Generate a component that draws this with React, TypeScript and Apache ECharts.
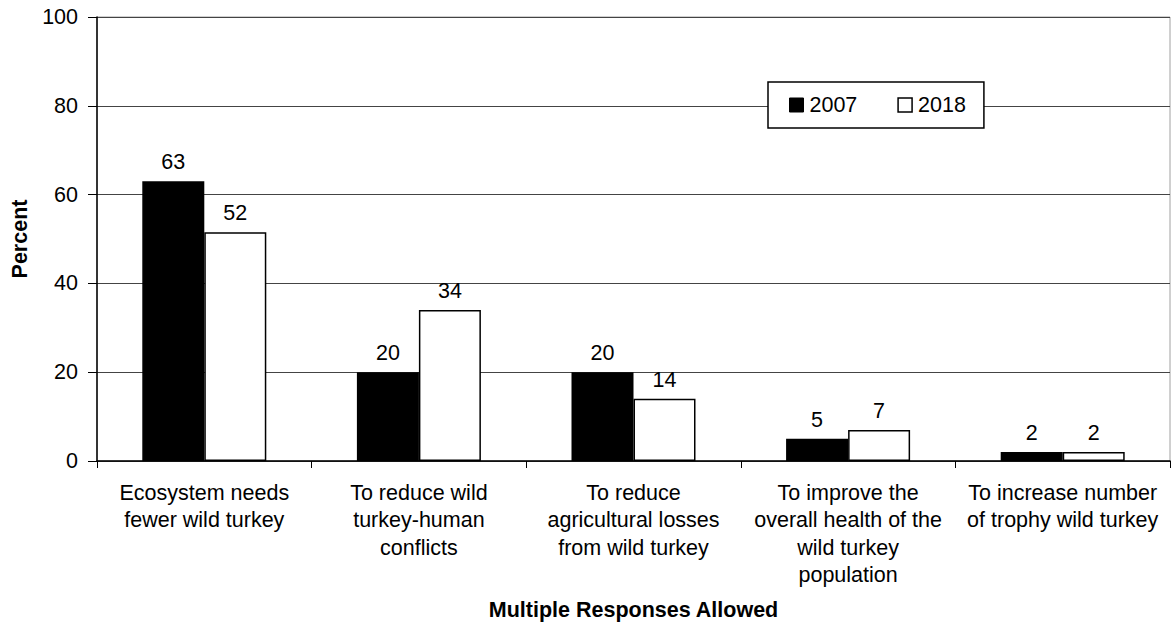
import React, { useEffect, useRef } from "react";
import * as echarts from "echarts";

const categories = [
  "Ecosystem needs\nfewer wild turkey",
  "To reduce wild\nturkey-human\nconflicts",
  "To reduce\nagricultural losses\nfrom wild turkey",
  "To improve the\noverall health of the\nwild turkey\npopulation",
  "To increase number\nof trophy wild turkey",
];
const values2007 = [63, 20, 20, 5, 2];
const values2018 = [51.5, 34, 14, 7, 2];
const seriesNames = ["2007", "2018"];
const yTicks = { min: 0, max: 100, interval: 20 };
const xTitle = "Multiple Responses Allowed";
const yTitle = "Percent";

const FONT = "'Liberation Sans', Arial, Helvetica, sans-serif";
const FS = 21.5;

export default function App() {
  const ref = useRef<HTMLDivElement>(null);
  useEffect(() => {
    if (!ref.current) return;
    const chart = echarts.init(ref.current, null, { renderer: "svg" });
    const labelCfg = {
      show: true,
      position: "top",
      distance: 8,
      color: "#000",
      fontFamily: FONT,
      fontSize: FS,
      formatter: (p: any) => String(Math.round(p.value)),
    };
    chart.setOption({
      animation: false,
      backgroundColor: "#fff",
      textStyle: { fontFamily: FONT, color: "#000" },
      grid: {
        left: 97,
        right: 1,
        top: 17,
        bottom: 163,
        show: true,
        borderColor: "#a0a0a0",
        borderWidth: 1,
        backgroundColor: "transparent",
      },
      legend: {
        left: 768,
        top: 82,
        orient: "horizontal",
        backgroundColor: "#fff",
        borderColor: "#000",
        borderWidth: 1.5,
        padding: [12, 18, 12, 21],
        itemGap: 40,
        itemWidth: 14,
        itemHeight: 14,
        icon: "rect",
        textStyle: { fontFamily: FONT, fontSize: FS, color: "#000", padding: [0, 0, 0, 1] },
        data: [
          { name: seriesNames[0], itemStyle: { color: "#000", borderColor: "#000", borderWidth: 1 } },
          { name: seriesNames[1], itemStyle: { color: "#fff", borderColor: "#000", borderWidth: 1.5 } },
        ],
      },
      xAxis: {
        type: "category",
        data: categories,
        name: xTitle,
        nameLocation: "middle",
        nameGap: 138,
        nameTextStyle: { fontFamily: FONT, fontSize: FS, fontWeight: "bold", color: "#000" },
        axisLine: { show: true, lineStyle: { color: "#000", width: 1.5 } },
        axisTick: { show: true, alignWithLabel: false, length: 7, lineStyle: { color: "#000", width: 1 } },
        axisLabel: {
          interval: 0,
          margin: 18,
          color: "#000",
          fontFamily: FONT,
          fontSize: FS,
          lineHeight: 27.5,
          align: "center",
        },
        splitLine: { show: false },
      },
      yAxis: {
        type: "value",
        min: yTicks.min,
        max: yTicks.max,
        interval: yTicks.interval,
        name: yTitle,
        nameLocation: "middle",
        nameGap: 66,
        nameRotate: 90,
        nameTextStyle: { fontFamily: FONT, fontSize: FS, fontWeight: "bold", color: "#000" },
        axisLine: { show: true, lineStyle: { color: "#000", width: 1.5 } },
        axisTick: { show: true, inside: false, length: 9, lineStyle: { color: "#000", width: 1 } },
        axisLabel: { margin: 19, color: "#000", fontFamily: FONT, fontSize: FS },
        splitLine: { show: true, lineStyle: { color: "#444", width: 1 } },
      },
      series: [
        {
          name: seriesNames[0],
          type: "bar",
          data: values2007,
          barWidth: 62,
          barGap: "0%",
          itemStyle: { color: "#000", borderColor: "#000", borderWidth: 1.5 },
          label: labelCfg,
        },
        {
          name: seriesNames[1],
          type: "bar",
          data: values2018,
          barWidth: 62,
          barGap: "0%",
          itemStyle: { color: "#fff", borderColor: "#000", borderWidth: 1.5 },
          label: labelCfg,
        },
      ],
    });
    return () => chart.dispose();
  }, []);
  return (
    <div
      ref={ref}
      style={{ position: "fixed", left: 0, top: 0, width: 1171, height: 626, background: "#fff" }}
    />
  );
}
